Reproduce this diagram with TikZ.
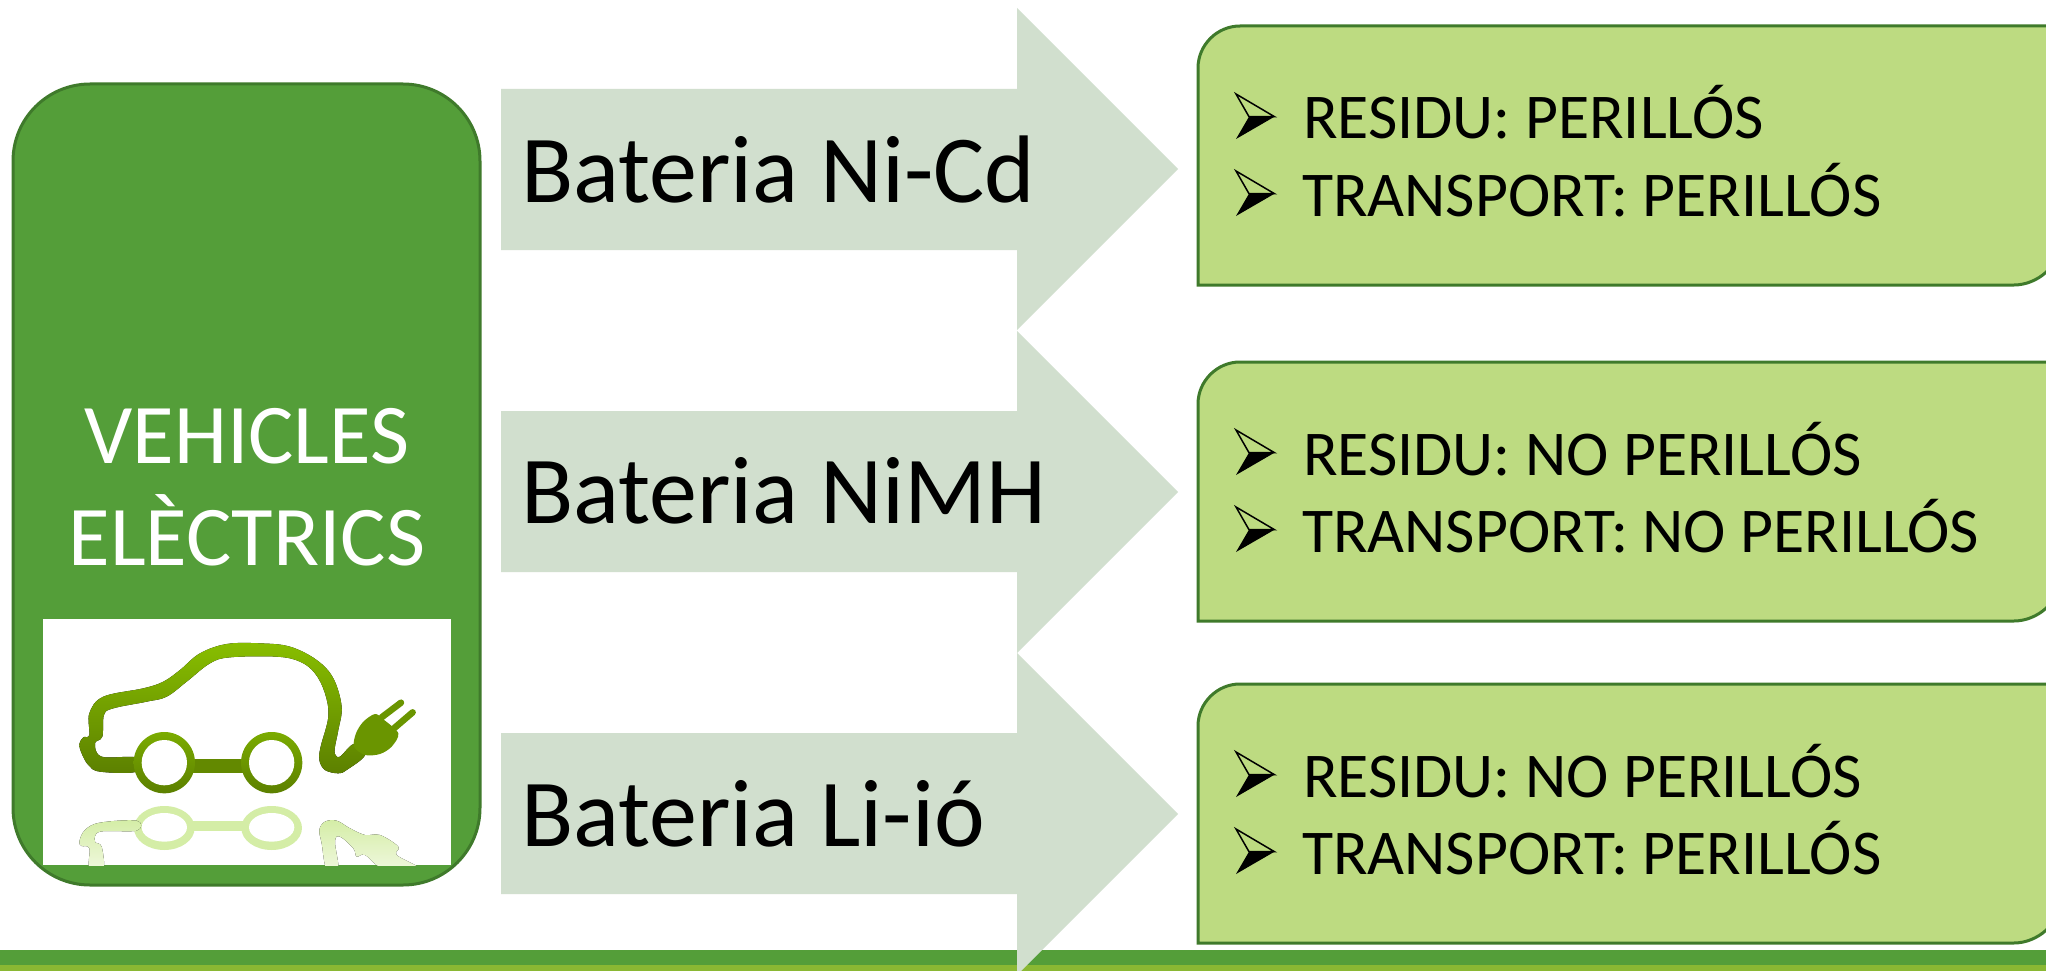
\documentclass[tikz,border=0pt]{standalone}
\usepackage{fontspec}
\setmainfont{Carlito}
\definecolor{darkgreen}{HTML}{549E39}
\definecolor{edgegreen}{HTML}{3F7A2B}
\definecolor{lightgreen}{HTML}{8AB833}
\definecolor{boxgreen}{HTML}{BDDB81}
\definecolor{arrowfill}{HTML}{D1DFCE}
\definecolor{cartop}{HTML}{88BE00}
\definecolor{carbot}{HTML}{5C8000}
\definecolor{plugcol}{HTML}{6A9500}
\definecolor{refltop}{HTML}{D4EDA6}
\definecolor{reflbot}{HTML}{F2F9E2}
\newcommand{\bulletmark}[2]{%
  \fill[black] (#1+13,#2+22.7) -- (#1+38.5,#2+22.7) -- (#1,#2+45) -- cycle;
  \draw[black,line width=1.5pt,line join=miter] (#1+13,#2+22.7) -- (#1,#2) -- (#1+38.5,#2+22.7) -- cycle;
}
\tikzset{
  every node/.style={inner sep=0pt,outer sep=0pt},
  batlabel/.style={anchor=base west,text=black,font=\fontsize{96}{96}\selectfont},
  titlelabel/.style={anchor=base,text=white,font=\fontsize{85}{85}\selectfont},
  itemlabel/.style={anchor=base west,text=black,font=\fontsize{63.8}{63.8}\selectfont},
  arrowshape/.style={fill=arrowfill},
  infobox/.style={draw=edgegreen,line width=3pt,fill=boxgreen,line join=miter},
  carbody/.style={top color=cartop,bottom color=carbot},
  reflbody/.style={top color=refltop,bottom color=reflbot}
}
\begin{document}
\begin{tikzpicture}[x=1pt,y=-1pt]
\path[use as bounding box,clip] (0,0) rectangle (2046,971);
\fill[white] (0,0) rectangle (2046,971);
% bottom stripes
\fill[darkgreen] (0,950) rectangle (2046,965);
\fill[lightgreen] (0,965) rectangle (2046,971);
% left panel
\draw[draw=edgegreen,line width=3pt,fill=darkgreen,rounded corners=77pt] (13,84) rectangle (480,885);
\node[titlelabel] (title1) at (247,463) {VEHICLES};
\node[titlelabel] (title2) at (247,565) {ELÈCTRICS};
% picture
\fill[white] (43,619) rectangle (451,865);
\begin{scope}[shift={(0,600)},x=0.33333pt,y=-0.33333pt]
  \begin{scope}
  \clip (129,57) rectangle (1353,795);
  % reflection
  \foreach \cx in {493,815}{
    \fill[refltop] (\cx,684) ellipse [x radius=91,y radius=66];
    \fill[white] (\cx,682) ellipse [x radius=68,y radius=43];
  }
  \fill[refltop] (578,662) rectangle (728,692);
  \fill[reflbody] plot[smooth cycle,tension=0.6] coordinates {(410,662) (300,668) (255,690) (238,725) (245,738) (268,745) (268,810) (310,810) (305,740) (285,725) (300,695) (410,692)};
  \fill[reflbody] plot[smooth cycle,tension=0.6] coordinates {(958,690) (975,665) (1010,662) (1050,685) (1095,705) (1140,705) (1195,740) (1190,765) (1255,805) (1150,805) (1095,765) (1070,770) (1060,745) (1020,710) (1005,725) (1015,810) (980,810) (965,730)};
  \end{scope}
  % car
  \fill[carbody] plot[smooth cycle,tension=0.6] coordinates {
    (238,432) (250,412) (268,405) (268,340) (310,290) (430,265) (490,245) (540,210) (600,160) (680,132) (780,130) (870,140) (950,180) (1000,235) (1025,320) (1015,390) (1005,440) (1005,462) (1020,470) (1062,432) (1095,465) (1040,510) (1015,520) (975,510) (958,480) (962,440) (985,350) (975,280) (945,220) (900,185) (830,170) (690,172) (630,190) (560,245) (500,290) (440,305) (340,325) (312,345) (307,410) (285,430) (305,470) (410,473) (410,515) (300,515) (265,495) (245,460)};
  \fill[plugcol] plot[smooth cycle,tension=0.5] coordinates {(1062,440) (1068,400) (1090,365) (1125,342) (1150,358) (1195,400) (1175,440) (1140,462) (1095,465)};
  \draw[plugcol,line width=6.5pt,line cap=round] (1145,352) -- (1203,308);
  \draw[plugcol,line width=6.5pt,line cap=round] (1182,385) -- (1238,337);
  \fill[carbot!85!cartop] (575,478) rectangle (730,520);
  \foreach \cx in {493,815}{
    \shade[top color=cartop!70!carbot,bottom color=carbot] (\cx,488) circle [radius=92];
    \fill[white] (\cx,488) circle [radius=68];
  }
\end{scope}
% arrows
\fill[arrowshape] (501,89) -- (1017,89) -- (1017,8) -- (1178,169) -- (1017,330) -- (1017,250) -- (501,250) -- cycle;
\fill[arrowshape] (501,411) -- (1017,411) -- (1017,331) -- (1178,492) -- (1017,653) -- (1017,572) -- (501,572) -- cycle;
\fill[arrowshape] (501,733) -- (1017,733) -- (1017,653) -- (1178,814) -- (1017,975) -- (1017,894) -- (501,894) -- cycle;
\node[batlabel] (bat1) at (521,202) {Bateria Ni-Cd};
\node[batlabel] (bat2) at (521,523) {Bateria NiMH};
\node[batlabel] (bat3) at (521,846) {Bateria Li-ió};
% info boxes
\foreach \t/\b in {26/285,362/621,684/943}{
  \draw[infobox] (1198,\b) -- (1198,\t+42) .. controls (1198,\t+19) and (1217,\t) .. (1240,\t) -- (2060,\t) -- (2060,\b-42) .. controls (2060,\b-19) and (2037,\b) .. (2014,\b) -- cycle;
}
\bulletmark{1236}{94}
\bulletmark{1236}{171}
\bulletmark{1236}{430}
\bulletmark{1236}{507}
\bulletmark{1236}{752}
\bulletmark{1236}{829}
\node[itemlabel] (t11) at (1303,139) {RESIDU: PERILLÓS};
\node[itemlabel] (t12) at (1302,216) {TRANSPORT: PERILLÓS};
\node[itemlabel] (t21) at (1303,475) {RESIDU: NO PERILLÓS};
\node[itemlabel] (t22) at (1302,552) {TRANSPORT: NO PERILLÓS};
\node[itemlabel] (t31) at (1303,797) {RESIDU: NO PERILLÓS};
\node[itemlabel] (t32) at (1302,874) {TRANSPORT: PERILLÓS};
\end{tikzpicture}
\end{document}
